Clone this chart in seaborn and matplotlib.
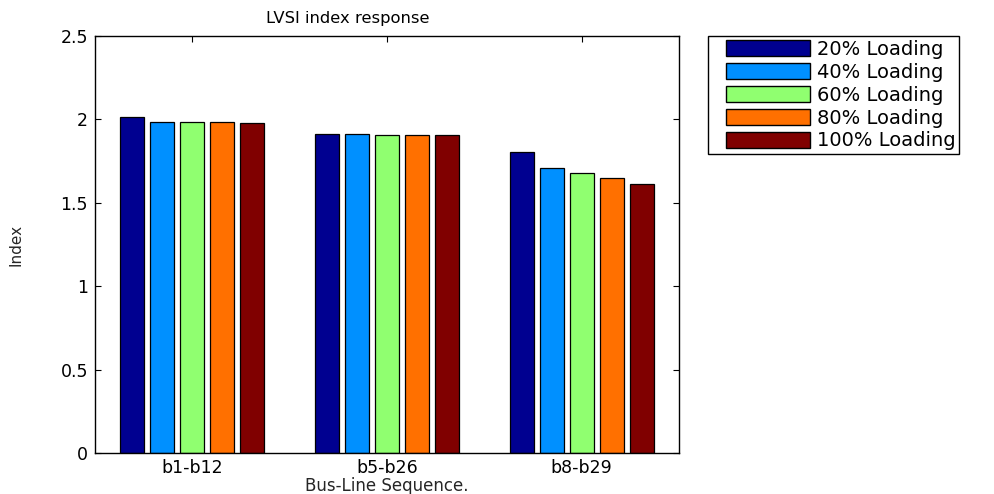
import matplotlib
matplotlib.use('Agg')
import matplotlib.pyplot as plt
from matplotlib.patches import Patch, Rectangle
from matplotlib.legend_handler import HandlerPatch
import seaborn as sns
import pandas as pd

# data
sequences = ['b1-b12', 'b5-b26', 'b8-b29']
loadings = ['20% Loading', '40% Loading', '60% Loading', '80% Loading', '100% Loading']
load_20 = [2.015, 1.910, 1.802]
load_40 = [1.985, 1.910, 1.706]
load_60 = [1.985, 1.905, 1.677]
load_80 = [1.985, 1.905, 1.647]
load_100 = [1.978, 1.905, 1.612]
yticks = [0, 0.5, 1, 1.5, 2, 2.5]

# jet-like colours used by MATLAB for 5 series
colors = ['#000090', '#0090ff', '#90ff70', '#ff7000', '#800000']

series = [load_20, load_40, load_60, load_80, load_100]
rows = []
for name, vals in zip(loadings, series):
    for seq, v in zip(sequences, vals):
        rows.append({'seq': seq, 'loading': name, 'index': v})
df = pd.DataFrame(rows)

sns.set_style('ticks')
plt.rcParams['font.family'] = ['DejaVu Sans']
plt.rcParams['text.color'] = 'black'
plt.rcParams['axes.edgecolor'] = 'black'
plt.rcParams['xtick.color'] = 'black'
plt.rcParams['ytick.color'] = 'black'

fig = plt.figure(figsize=(9.94, 4.94), dpi=100)
ax = fig.add_axes([95 / 994, 1 - 453 / 494, 584 / 994, 417 / 494])

sns.barplot(data=df, x='seq', y='index', hue='loading', order=sequences,
            hue_order=loadings, palette=colors, width=0.77, gap=0.2,
            edgecolor='black', linewidth=0.9, saturation=1, ax=ax)

ax.set_xlim(-0.5, 2.5)
ax.set_ylim(0, 2.5)
ax.set_yticks(yticks)
ax.set_yticklabels(['0', '0.5', '1', '1.5', '2', '2.5'])
ax.tick_params(axis='both', direction='in', top=True, right=True,
               length=4.5, width=0.8, labelsize=12.5, pad=5)
ax.tick_params(axis='x', pad=4)
for sp in ax.spines.values():
    sp.set_linewidth(1.0)
    sp.set_color('black')

ax.set_title('LVSI index response', fontsize=11.8, x=0.432, pad=9)
ax.set_xlabel('Bus-Line Sequence.', fontsize=12, labelpad=0)
ax.set_ylabel('Index', fontsize=11)
ax.yaxis.set_label_coords(-0.122, 0.5)

handles, labels = ax.get_legend_handles_labels()
for h in handles:
    h.set_edgecolor('black')
    h.set_linewidth(1.0)
fs = 14
ax.legend(handles, labels, loc='upper left',
          bbox_to_anchor=(708 / 994, 1 - 36 / 494), bbox_transform=fig.transFigure,
          borderaxespad=0, fancybox=False, edgecolor='black', framealpha=1,
          fontsize=fs, handlelength=5.04, handleheight=0.87, handletextpad=0.36,
          labelspacing=0.2, borderpad=0.2,
          handler_map={Patch: HandlerPatch(xpad=0.72), Rectangle: HandlerPatch(xpad=0.72)})
ax.get_legend().get_frame().set_linewidth(1.0)

fig.savefig('out.png', dpi=100)
